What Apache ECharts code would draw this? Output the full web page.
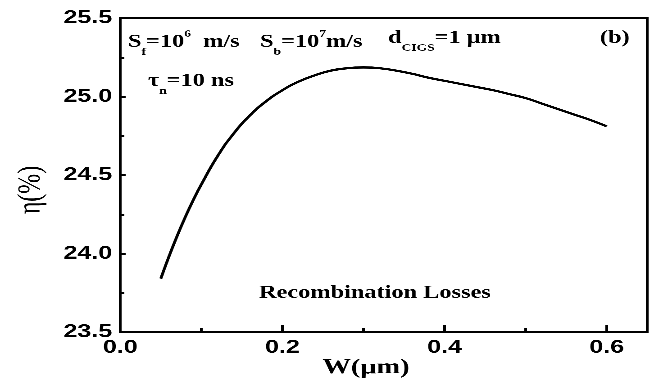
<!DOCTYPE html>
<html>
<head>
<meta charset="utf-8">
<script src="https://cdn.jsdelivr.net/npm/echarts@6/dist/echarts.min.js"></script>
<style>
html,body{margin:0;padding:0;background:#fff}
#wrap{width:654px;height:385px;overflow:hidden;position:relative}
#c{width:484px;height:385px;transform:scaleX(1.35124);transform-origin:0 0}
</style>
</head>
<body>
<div id="wrap"><div id="c"></div></div>
<script>
const wValues = [0.05,0.06,0.07,0.08,0.09,0.10,0.12,0.14,0.16,0.18,0.20,0.22,0.24,0.26,0.28,0.30,0.32,0.34,0.36,0.38,0.40,0.42,0.44,0.46,0.48,0.50,0.52,0.54,0.56,0.58,0.60];
const etaValues = [23.84,23.98,24.11,24.23,24.34,24.44,24.62,24.765,24.88,24.97,25.04,25.095,25.135,25.165,25.18,25.185,25.18,25.165,25.145,25.12,25.10,25.08,25.06,25.04,25.015,24.99,24.955,24.92,24.885,24.85,24.81];
const xTicks = [0.0,0.2,0.4,0.6];
const yTicks = [23.5,24.0,24.5,25.0,25.5];

const chart = echarts.init(document.getElementById('c'), null, {renderer:'canvas', devicePixelRatio:3});
const serif = '"Liberation Serif","Times New Roman",serif';
const sans = '"Liberation Sans",Arial,sans-serif';
const FS = 18;
const rich = {
  n:{fontFamily:serif,fontWeight:'bold',fontSize:FS,color:'#000'},
  sub:{fontFamily:serif,fontWeight:'bold',fontSize:10,color:'#000',verticalAlign:'bottom',padding:[0,0,-6,0]},
  sup:{fontFamily:serif,fontWeight:'bold',fontSize:10,color:'#000',verticalAlign:'top',padding:[-4,0,0,0]}
};
function txt(x,y,t){
  return {type:'text',left:x,top:y,style:{text:t,rich:rich,fill:'#000',fontFamily:serif,fontWeight:'bold',fontSize:FS}};
}
chart.setOption({
  animation:false,
  grid:{left:89,right:5,top:18,bottom:53,show:true,borderColor:'#000',borderWidth:2,backgroundColor:'transparent'},
  xAxis:{type:'value',min:0,max:0.65,interval:0.2,
    axisLine:{show:true,lineStyle:{color:'#000',width:2}},
    axisTick:{inside:true,length:7,lineStyle:{color:'#000',width:2}},
    minorTick:{show:true,splitNumber:2,length:4,lineStyle:{color:'#000',width:2}},
    splitLine:{show:false},
    axisLabel:{fontFamily:sans,fontWeight:'bold',fontSize:18.5,color:'#000',margin:6,
      formatter:v=>xTicks.some(t=>Math.abs(t-v)<1e-9)?v.toFixed(1):''}
  },
  yAxis:{type:'value',min:23.5,max:25.5,interval:0.5,
    axisLine:{show:true,lineStyle:{color:'#000',width:2}},
    axisTick:{inside:true,length:4,lineStyle:{color:'#000',width:2}},
    minorTick:{show:true,splitNumber:2,length:3,lineStyle:{color:'#000',width:2}},
    splitLine:{show:false},
    axisLabel:{fontFamily:sans,fontWeight:'bold',fontSize:18.5,color:'#000',margin:6,
      formatter:v=>yTicks.some(t=>Math.abs(t-v)<1e-9)?v.toFixed(1):''}
  },
  series:[{type:'line',data:wValues.map((w,i)=>[w,etaValues[i]]),smooth:0.5,showSymbol:false,
    lineStyle:{color:'#000',width:2.2}}],
  graphic:[
    txt(94.7,29,'{n|S}{sub|f}{n|=10}{sup|6}{n|  m/s}'),
    txt(192.4,29,'{n|S}{sub|b}{n|=10}{sup|7}{n|m/s}'),
    txt(287.2,29,'{n|d}{sub|CIGS}{n|=1 \u03bcm}'),
    txt(444,29,'{n|(b)}'),
    txt(109.5,72,'{n|\u03c4}{sub|n}{n|=10 ns}'),
    {type:'text',left:191.7,top:284,style:{text:'Recombination Losses',fill:'#000',fontFamily:serif,fontWeight:'bold',fontSize:FS}},
    {type:'text',x:270.9,y:368,style:{text:'W(\u03bcm)',fill:'#000',fontFamily:serif,fontWeight:'bold',fontSize:21,align:'center',verticalAlign:'middle'}},
    {type:'text',x:23,y:190,rotation:Math.PI/2,style:{text:'\u03b7(%)',fill:'#000',fontFamily:serif,fontSize:24,align:'center',verticalAlign:'middle'}}
  ]
});
</script>
</body>
</html>
